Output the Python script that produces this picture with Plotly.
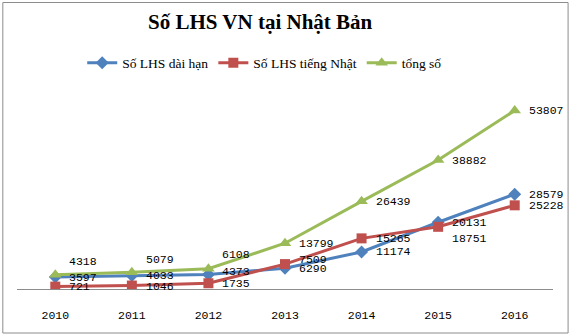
import plotly.graph_objects as go

years = ["2010", "2011", "2012", "2013", "2014", "2015", "2016"]
dai_han = [3597, 4033, 4373, 6290, 11174, 20131, 28579]
tieng_nhat = [721, 1046, 1735, 7509, 15265, 18751, 25228]
tong_so = [4318, 5079, 6108, 13799, 26439, 38882, 53807]

series = [
    ("Số LHS dài hạn", dai_han, "#4F81BD", "diamond", 10),
    ("Số LHS tiếng Nhật", tieng_nhat, "#C0504D", "square", 10),
    ("tổng số", tong_so, "#9BBB59", "triangle-up", 11),
]

# vertical nudges (px) for individual value labels
label_dy = {
    "Số LHS dài hạn": [0, 0, 3, 0, 0, 0, 0],
    "Số LHS tiếng Nhật": [0, -1, 0, 5, 0, -12, 0],
    "tổng số": [13, 13, 14, 0, 0, 0, 0],
}

label_font = dict(family="Liberation Mono, monospace", size=11.5, color="#000000")

fig = go.Figure()
annotations = []
for name, vals, color, symbol, msize in series:
    fig.add_trace(go.Scatter(
        x=years, y=vals, name=name, mode="lines+markers",
        line=dict(color=color, width=3),
        marker=dict(symbol=symbol, size=msize, color=color),
        hoverinfo="skip",
    ))
    for i, v in enumerate(vals):
        # category axis: position annotations by category index
        annotations.append(dict(
            x=i, y=v, xref="x", yref="y", text=str(v), showarrow=False,
            xanchor="left", yanchor="middle", xshift=12, yshift=label_dy[name][i],
            font=label_font,
        ))

annotations.append(dict(
    x=(261 - 16.7) / 536.7, y=(289 - 22) / 199, xref="paper", yref="paper",
    text="<b>Số LHS VN tại Nhật Bản</b>", showarrow=False,
    xanchor="center", yanchor="middle",
    font=dict(family="Liberation Serif, serif", size=21, color="#000000"),
))

fig.update_layout(
    width=572, height=336,
    margin=dict(l=17, r=19, t=90, b=47),
    paper_bgcolor="#FFFFFF", plot_bgcolor="#FFFFFF",
    showlegend=True,
    legend=dict(
        orientation="h", x=(82 - 16.7) / 536.7, y=(289 - 63) / 199,
        xanchor="left", yanchor="middle",
        font=dict(family="Liberation Serif, serif", size=13.5, color="#000000"),
        itemwidth=30, tracegroupgap=0,
    ),
    annotations=annotations,
    xaxis=dict(
        type="category", range=[-0.5, 6.5], showgrid=False, zeroline=False,
        showline=True, linecolor="#8C8C8C", linewidth=1, ticks="",
        tickfont=dict(family="Liberation Mono, monospace", size=11.5, color="#000000"),
        ticklabelstandoff=15, fixedrange=True,
    ),
    yaxis=dict(
        range=[0, 60000], visible=False, showgrid=False, zeroline=False,
        fixedrange=True,
    ),
    shapes=[dict(
        type="rect", xref="paper", yref="paper",
        x0=(2.5 - 16.7) / 536.7, x1=(568.5 - 16.7) / 536.7,
        y0=(289 - 333) / 199, y1=(289 - 2.5) / 199,
        line=dict(color="#8C8C8C", width=1), fillcolor="rgba(0,0,0,0)",
        layer="below",
    )],
)

fig.write_html("out.html")
